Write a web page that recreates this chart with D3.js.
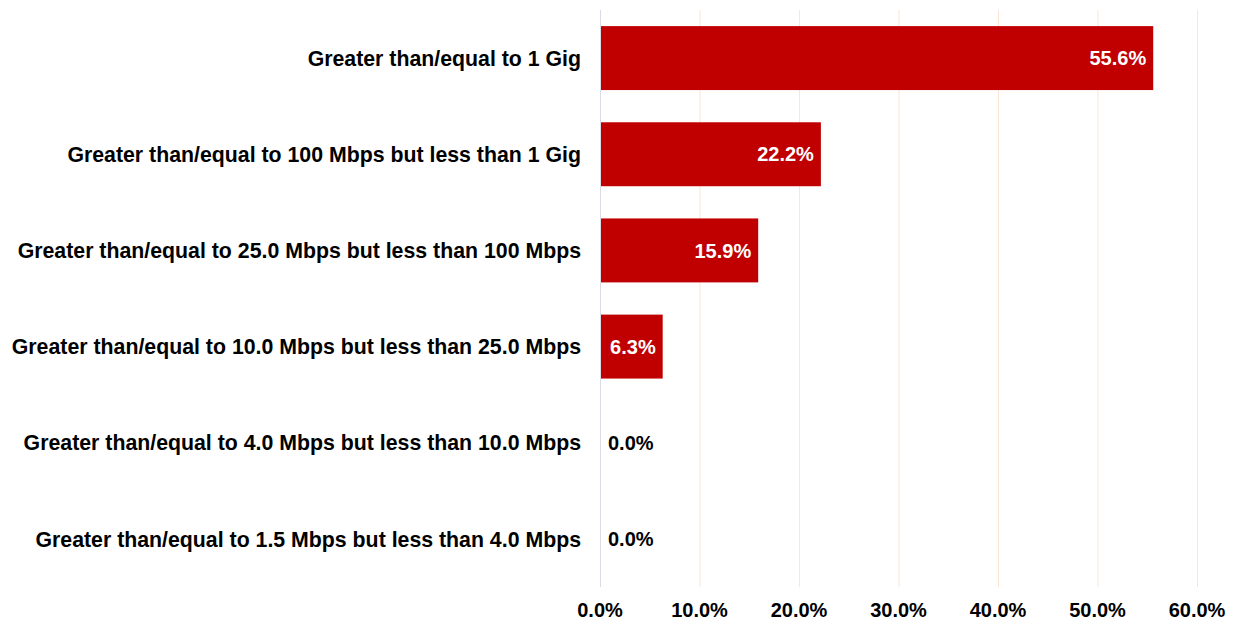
<!DOCTYPE html>
<html>
<head>
<meta charset="utf-8">
<script src="https://cdn.jsdelivr.net/npm/d3@7"></script>
<style>
  body { margin: 0; background: #fff; }
  text { font-family: "Liberation Sans", Arial, sans-serif; font-weight: bold; }
</style>
</head>
<body>
<script>
// data
var categories = [
    "Greater than/equal to 1 Gig",
    "Greater than/equal to 100 Mbps but less than 1 Gig",
    "Greater than/equal to 25.0 Mbps but less than 100 Mbps",
    "Greater than/equal to 10.0 Mbps but less than 25.0 Mbps",
    "Greater than/equal to 4.0 Mbps but less than 10.0 Mbps",
    "Greater than/equal to 1.5 Mbps but less than 4.0 Mbps"
];
var values = [55.6, 22.2, 15.9, 6.3, 0.0, 0.0];
var ticks = [0, 10, 20, 30, 40, 50, 60];

var w = 1240, h = 620;
var margin = {top: 10, right: 43, bottom: 33, left: 600};

var svg = d3.select("body").append("svg")
    .attr("width", w)
    .attr("height", h);

var x = d3.scaleLinear()
    .domain([0, 60])
    .range([margin.left, w - margin.right]);

var y = d3.scaleBand()
    .domain(categories)
    .range([margin.top, h - margin.bottom])
    .paddingInner(0.335)
    .paddingOuter(0.1675);

// gridlines
svg.append("g").selectAll("line")
    .data(ticks)
    .enter().append("line")
    .attr("x1", function (d) { return x(d) + 0.5; })
    .attr("x2", function (d) { return x(d) + 0.5; })
    .attr("y1", margin.top)
    .attr("y2", h - margin.bottom)
    .attr("stroke", function (d) { return d === 0 ? "#d9dce6" : "#fbe5d6"; })
    .attr("stroke-width", 1);

// bars
svg.append("g").selectAll("rect")
    .data(values)
    .enter().append("rect")
    .attr("x", x(0) + 1)
    .attr("y", function (d, i) { return y(categories[i]); })
    .attr("width", function (d) { return Math.max(0, x(d) - x(0) - 1); })
    .attr("height", y.bandwidth())
    .attr("fill", "#c00000");

// value labels
svg.append("g").selectAll("text")
    .data(values)
    .enter().append("text")
    .attr("x", function (d) { return d > 0 ? x(d) - 7 : x(0) + 8; })
    .attr("y", function (d, i) { return y(categories[i]) + y.bandwidth() / 2; })
    .attr("dy", "0.36em")
    .attr("text-anchor", function (d) { return d > 0 ? "end" : "start"; })
    .attr("fill", function (d) { return d > 0 ? "#fff" : "#000"; })
    .style("font-size", "20px")
    .text(function (d) { return d.toFixed(1) + "%"; });

// category labels
svg.append("g").selectAll("text")
    .data(categories)
    .enter().append("text")
    .attr("x", margin.left - 19)
    .attr("y", function (d) { return y(d) + y.bandwidth() / 2; })
    .attr("dy", "0.36em")
    .attr("text-anchor", "end")
    .attr("fill", "#000")
    .style("font-size", "21.3px")
    .text(function (d) { return d; });

// x axis tick labels
svg.append("g").selectAll("text")
    .data(ticks)
    .enter().append("text")
    .attr("x", function (d) { return x(d); })
    .attr("y", h - 10)
    .attr("dy", "0.36em")
    .attr("text-anchor", "middle")
    .attr("fill", "#000")
    .style("font-size", "20px")
    .text(function (d) { return d.toFixed(1) + "%"; });
</script>
</body>
</html>
